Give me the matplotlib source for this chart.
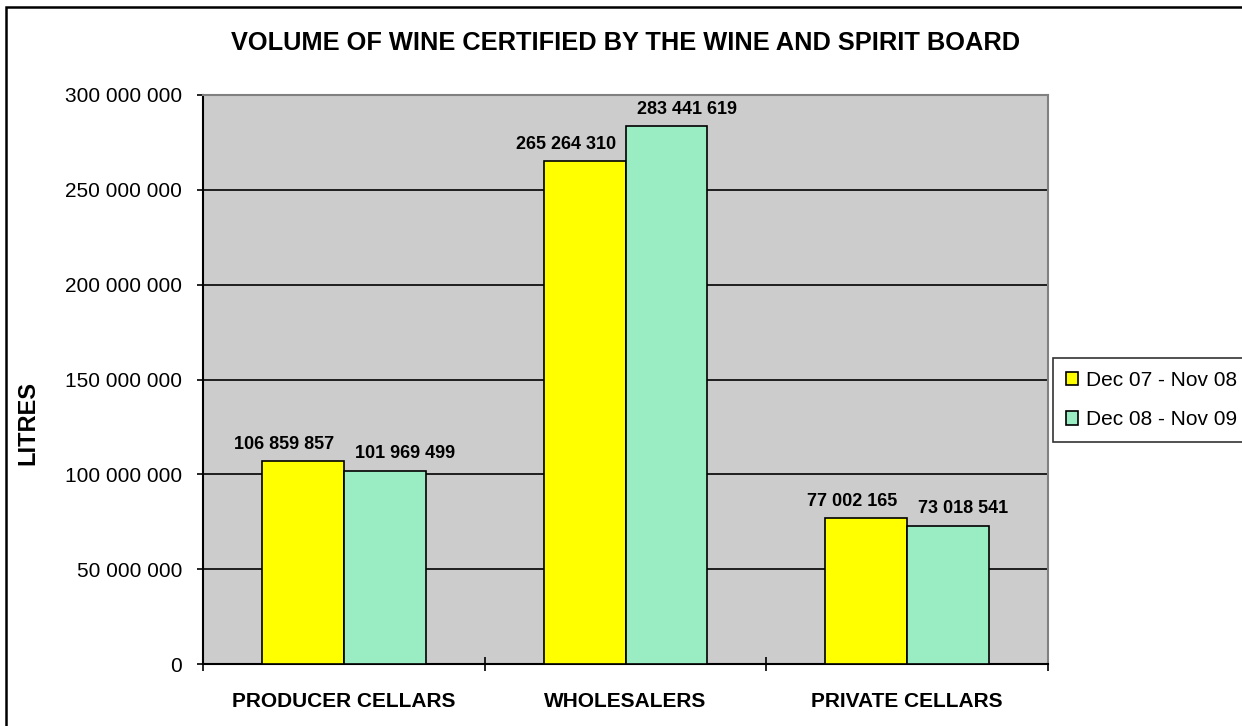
import matplotlib
matplotlib.use("Agg")
import matplotlib.pyplot as plt
import matplotlib.patches as mpatches
import numpy as np

plt.rcParams['font.family'] = ['Liberation Sans', 'DejaVu Sans']

categories = ['PRODUCER CELLARS', 'WHOLESALERS', 'PRIVATE CELLARS']
series_names = ['Dec 07 - Nov 08', 'Dec 08 - Nov 09']
vol_0708 = [106859857, 265264310, 77002165]
vol_0809 = [101969499, 283441619, 73018541]
y_ticks = [0, 50000000, 100000000, 150000000, 200000000, 250000000, 300000000]

yellow = '#FFFF00'
mint = '#9AEDC2'
W, H = 1242, 726

def fmt(v):
    return f'{v:,}'.replace(',', ' ')

fig = plt.figure(figsize=(W / 100, H / 100), dpi=100)
ax = fig.add_axes([203 / W, 1 - 664 / H, (1048 - 203) / W, (664 - 95) / H])
ax.set_facecolor('#CCCCCC')

x = np.arange(len(categories))
bw = 0.29
b1 = ax.bar(x - bw / 2, vol_0708, bw, color=yellow, edgecolor='black', linewidth=1.2, zorder=3)
b2 = ax.bar(x + bw / 2, vol_0809, bw, color=mint, edgecolor='black', linewidth=1.2, zorder=3)

# value labels: yellow ones hug the right edge, green ones the left edge
for r, v in zip(b1, vol_0708):
    ax.annotate(fmt(v), (r.get_x() + r.get_width(), v), xytext=(-7, 6),
                textcoords='offset points', ha='right', va='bottom',
                fontsize=13, fontweight='bold', zorder=4)
for r, v in zip(b2, vol_0809):
    ax.annotate(fmt(v), (r.get_x(), v), xytext=(8, 6),
                textcoords='offset points', ha='left', va='bottom',
                fontsize=13, fontweight='bold', zorder=4)

ax.set_xlim(-0.5, len(categories) - 0.5)
ax.set_ylim(0, 300000000)
ax.set_yticks(y_ticks)
ax.set_yticklabels([fmt(t) for t in y_ticks], fontsize=15)
ax.yaxis.grid(True, color='black', linewidth=1.2, zorder=1)
ax.tick_params(axis='y', direction='out', length=4, width=1.2, pad=11)

ax.set_xticks(np.arange(len(categories) + 1) - 0.5)
ax.set_xticklabels([])
ax.set_xticks(x, minor=True)
ax.set_xticklabels(categories, minor=True, fontsize=15, fontweight='bold')
ax.tick_params(axis='x', which='major', direction='inout', length=10, width=1.2)
ax.tick_params(axis='x', which='minor', length=0, pad=20)

for s in ['left', 'bottom']:
    ax.spines[s].set_color('black')
    ax.spines[s].set_linewidth(1.5)
for s in ['top', 'right']:
    ax.spines[s].set_color('#808080')
    ax.spines[s].set_linewidth(1.5)

ax.set_ylabel('LITRES', fontsize=17, fontweight='bold')
ax.yaxis.set_label_coords((39 - 203) / (1048 - 203), (664 - 423) / (664 - 95))
fig.text((203 + 1048) / 2 / W, 1 - 43 / H, 'VOLUME OF WINE CERTIFIED BY THE WINE AND SPIRIT BOARD',
         ha='center', va='center', fontsize=18.3, fontweight='bold')

handles = [mpatches.Patch(facecolor=yellow, edgecolor='black', linewidth=1.2),
           mpatches.Patch(facecolor=mint, edgecolor='black', linewidth=1.2)]
leg = fig.legend(handles, series_names, loc='upper left', bbox_to_anchor=(1053 / W, 1 - 358 / H),
                 fontsize=15, frameon=True, fancybox=False, edgecolor='black',
                 handlelength=0.6, handleheight=0.6, handletextpad=0.4,
                 labelspacing=1.0, borderpad=0.6, borderaxespad=0)
leg.get_frame().set_linewidth(1.2)

fig.patches.append(mpatches.Rectangle((6 / W, -0.1), 2, 1 - 7 / H + 0.1, transform=fig.transFigure,
                                      fill=False, edgecolor='black', linewidth=1.8))

fig.savefig('out.png', dpi=100)
